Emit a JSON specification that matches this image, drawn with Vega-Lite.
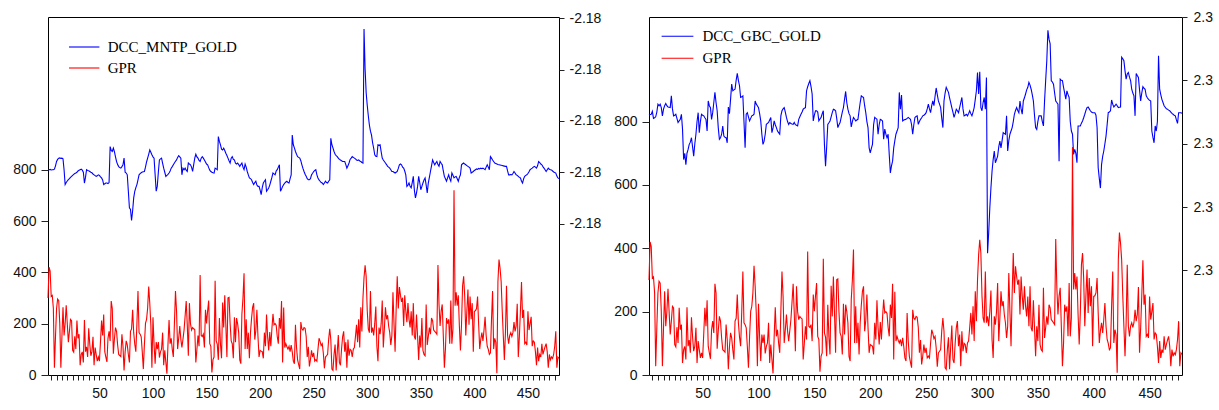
{
"$schema":"https://vega.github.io/schema/vega-lite/v6.json",
"padding":{"left":12,"top":9,"right":0,"bottom":0},
"background":"white",
"config":{"view":{"stroke":"#000","strokeWidth":1},"axis":{"labelFont":"Liberation Sans","labelFontSize":14,"labelColor":"#111","tickColor":"#222","tickWidth":1,"domain":false,"grid":false,"labelFlush":false},"legend":{"labelFont":"Liberation Serif","labelFontSize":15,"labelColor":"#000","padding":0,"rowPadding":0,"symbolStrokeWidth":1.1}},
"datasets":{"d":[
{"t":2,"gpr":300,"mntp":-2.18469,"gbc":2.3069},
{"t":3,"gpr":420,"mntp":-2.18469,"gbc":2.30692},
{"t":4,"gpr":405,"mntp":-2.184689,"gbc":2.30693},
{"t":5,"gpr":306,"mntp":-2.184691,"gbc":2.30702},
{"t":6,"gpr":310,"mntp":-2.18469,"gbc":2.3068},
{"t":7,"gpr":260,"mntp":-2.18469,"gbc":2.30682},
{"t":8,"gpr":28,"mntp":-2.184688,"gbc":2.30685},
{"t":9,"gpr":150,"mntp":-2.184675,"gbc":2.307},
{"t":10,"gpr":259,"mntp":-2.184658,"gbc":2.30725},
{"t":11,"gpr":296,"mntp":-2.18465,"gbc":2.3072},
{"t":12,"gpr":290,"mntp":-2.184645,"gbc":2.30725},
{"t":13,"gpr":200,"mntp":-2.184644,"gbc":2.30714},
{"t":14,"gpr":28,"mntp":-2.184646,"gbc":2.30688},
{"t":15,"gpr":150,"mntp":-2.184645,"gbc":2.30709},
{"t":16,"gpr":264,"mntp":-2.184648,"gbc":2.3072},
{"t":17,"gpr":154,"mntp":-2.18469,"gbc":2.30727},
{"t":18,"gpr":200,"mntp":-2.184748,"gbc":2.3072},
{"t":19,"gpr":272,"mntp":-2.18474,"gbc":2.30716},
{"t":20,"gpr":200,"mntp":-2.184734,"gbc":2.30715},
{"t":21,"gpr":128,"mntp":-2.184729,"gbc":2.30714},
{"t":22,"gpr":170,"mntp":-2.184725,"gbc":2.30751},
{"t":23,"gpr":217,"mntp":-2.18472,"gbc":2.3071},
{"t":24,"gpr":212,"mntp":-2.184716,"gbc":2.30688},
{"t":25,"gpr":96,"mntp":-2.184712,"gbc":2.3069},
{"t":26,"gpr":89,"mntp":-2.184708,"gbc":2.30693},
{"t":27,"gpr":151,"mntp":-2.184705,"gbc":2.3068},
{"t":28,"gpr":101,"mntp":-2.184703,"gbc":2.30667},
{"t":29,"gpr":212,"mntp":-2.1847,"gbc":2.30672},
{"t":30,"gpr":143,"mntp":-2.184695,"gbc":2.30677},
{"t":31,"gpr":159,"mntp":-2.184692,"gbc":2.30693},
{"t":32,"gpr":38,"mntp":-2.18469,"gbc":2.30646},
{"t":33,"gpr":80,"mntp":-2.184688,"gbc":2.3055},
{"t":34,"gpr":90,"mntp":-2.184692,"gbc":2.3057},
{"t":35,"gpr":49,"mntp":-2.1847,"gbc":2.30534},
{"t":36,"gpr":214,"mntp":-2.184742,"gbc":2.3057},
{"t":37,"gpr":91,"mntp":-2.18472,"gbc":2.30582},
{"t":38,"gpr":110,"mntp":-2.18469,"gbc":2.30598},
{"t":39,"gpr":70,"mntp":-2.184693,"gbc":2.30605},
{"t":40,"gpr":182,"mntp":-2.184694,"gbc":2.30619},
{"t":41,"gpr":120,"mntp":-2.184697,"gbc":2.3059},
{"t":42,"gpr":75,"mntp":-2.1847,"gbc":2.30561},
{"t":43,"gpr":91,"mntp":-2.184702,"gbc":2.306},
{"t":44,"gpr":149,"mntp":-2.184707,"gbc":2.3063},
{"t":45,"gpr":38,"mntp":-2.18471,"gbc":2.3067},
{"t":46,"gpr":107,"mntp":-2.184713,"gbc":2.30698},
{"t":47,"gpr":80,"mntp":-2.184716,"gbc":2.30635},
{"t":48,"gpr":54,"mntp":-2.184714,"gbc":2.3067},
{"t":49,"gpr":70,"mntp":-2.18471,"gbc":2.30693},
{"t":50,"gpr":54,"mntp":-2.184712,"gbc":2.3069},
{"t":51,"gpr":130,"mntp":-2.184718,"gbc":2.30688},
{"t":52,"gpr":212,"mntp":-2.184722,"gbc":2.30682},
{"t":53,"gpr":154,"mntp":-2.18473,"gbc":2.30677},
{"t":54,"gpr":236,"mntp":-2.184748,"gbc":2.3064},
{"t":55,"gpr":91,"mntp":-2.184745,"gbc":2.30735},
{"t":56,"gpr":70,"mntp":-2.184742,"gbc":2.3072},
{"t":57,"gpr":51,"mntp":-2.184742,"gbc":2.30714},
{"t":58,"gpr":143,"mntp":-2.184744,"gbc":2.30677},
{"t":59,"gpr":170,"mntp":-2.18474,"gbc":2.30698},
{"t":60,"gpr":133,"mntp":-2.1846,"gbc":2.3073},
{"t":61,"gpr":288,"mntp":-2.184615,"gbc":2.30762},
{"t":62,"gpr":259,"mntp":-2.184619,"gbc":2.3073},
{"t":63,"gpr":83,"mntp":-2.184606,"gbc":2.30704},
{"t":64,"gpr":140,"mntp":-2.18462,"gbc":2.3065},
{"t":65,"gpr":185,"mntp":-2.18464,"gbc":2.30614},
{"t":66,"gpr":170,"mntp":-2.184658,"gbc":2.30619},
{"t":67,"gpr":117,"mntp":-2.18467,"gbc":2.3063},
{"t":68,"gpr":80,"mntp":-2.184678,"gbc":2.30656},
{"t":69,"gpr":76,"mntp":-2.184682,"gbc":2.30624},
{"t":70,"gpr":72,"mntp":-2.184684,"gbc":2.3062},
{"t":71,"gpr":159,"mntp":-2.184678,"gbc":2.30619},
{"t":72,"gpr":112,"mntp":-2.184671,"gbc":2.30603},
{"t":73,"gpr":18,"mntp":-2.184645,"gbc":2.30716},
{"t":74,"gpr":90,"mntp":-2.1847,"gbc":2.30695},
{"t":75,"gpr":133,"mntp":-2.184703,"gbc":2.3074},
{"t":76,"gpr":117,"mntp":-2.18471,"gbc":2.30788},
{"t":77,"gpr":80,"mntp":-2.184774,"gbc":2.30767},
{"t":78,"gpr":49,"mntp":-2.184839,"gbc":2.3077},
{"t":79,"gpr":170,"mntp":-2.184845,"gbc":2.30772},
{"t":80,"gpr":179,"mntp":-2.184888,"gbc":2.308},
{"t":81,"gpr":254,"mntp":-2.18485,"gbc":2.30822},
{"t":82,"gpr":165,"mntp":-2.1848,"gbc":2.308},
{"t":83,"gpr":120,"mntp":-2.184774,"gbc":2.30783},
{"t":84,"gpr":91,"mntp":-2.18476,"gbc":2.30746},
{"t":85,"gpr":200,"mntp":-2.184748,"gbc":2.30748},
{"t":86,"gpr":327,"mntp":-2.18473,"gbc":2.30751},
{"t":87,"gpr":165,"mntp":-2.18471,"gbc":2.3067},
{"t":88,"gpr":159,"mntp":-2.184705,"gbc":2.30587},
{"t":89,"gpr":149,"mntp":-2.184702,"gbc":2.30693},
{"t":90,"gpr":90,"mntp":-2.184699,"gbc":2.30698},
{"t":91,"gpr":23,"mntp":-2.184698,"gbc":2.30685},
{"t":92,"gpr":120,"mntp":-2.184697,"gbc":2.30672},
{"t":93,"gpr":201,"mntp":-2.18468,"gbc":2.3068},
{"t":94,"gpr":217,"mntp":-2.18466,"gbc":2.30688},
{"t":95,"gpr":260,"mntp":-2.184645,"gbc":2.3069},
{"t":96,"gpr":345,"mntp":-2.18463,"gbc":2.30693},
{"t":97,"gpr":280,"mntp":-2.184613,"gbc":2.30735},
{"t":98,"gpr":196,"mntp":-2.184622,"gbc":2.30725},
{"t":99,"gpr":28,"mntp":-2.184632,"gbc":2.3072},
{"t":100,"gpr":225,"mntp":-2.18464,"gbc":2.30714},
{"t":101,"gpr":120,"mntp":-2.184645,"gbc":2.30695},
{"t":102,"gpr":44,"mntp":-2.18471,"gbc":2.30672},
{"t":103,"gpr":128,"mntp":-2.184774,"gbc":2.3063},
{"t":104,"gpr":101,"mntp":-2.184755,"gbc":2.30598},
{"t":105,"gpr":128,"mntp":-2.1847,"gbc":2.30608},
{"t":106,"gpr":68,"mntp":-2.184652,"gbc":2.3063},
{"t":107,"gpr":90,"mntp":-2.184648,"gbc":2.30661},
{"t":108,"gpr":101,"mntp":-2.184645,"gbc":2.30664},
{"t":109,"gpr":165,"mntp":-2.184665,"gbc":2.30667},
{"t":110,"gpr":38,"mntp":-2.184684,"gbc":2.30675},
{"t":111,"gpr":96,"mntp":-2.1847,"gbc":2.30683},
{"t":112,"gpr":50,"mntp":-2.184716,"gbc":2.30635},
{"t":113,"gpr":5,"mntp":-2.184712,"gbc":2.3065},
{"t":114,"gpr":120,"mntp":-2.184708,"gbc":2.30672},
{"t":115,"gpr":214,"mntp":-2.184703,"gbc":2.3066},
{"t":116,"gpr":122,"mntp":-2.184695,"gbc":2.30651},
{"t":117,"gpr":143,"mntp":-2.184684,"gbc":2.3064},
{"t":118,"gpr":100,"mntp":-2.184678,"gbc":2.30635},
{"t":119,"gpr":70,"mntp":-2.184671,"gbc":2.3063},
{"t":120,"gpr":200,"mntp":-2.184664,"gbc":2.30688},
{"t":121,"gpr":327,"mntp":-2.184657,"gbc":2.30704},
{"t":122,"gpr":248,"mntp":-2.184652,"gbc":2.3071},
{"t":123,"gpr":101,"mntp":-2.184642,"gbc":2.30714},
{"t":124,"gpr":143,"mntp":-2.184635,"gbc":2.307},
{"t":125,"gpr":191,"mntp":-2.18464,"gbc":2.30683},
{"t":126,"gpr":140,"mntp":-2.184645,"gbc":2.3067},
{"t":127,"gpr":107,"mntp":-2.18471,"gbc":2.30661},
{"t":128,"gpr":140,"mntp":-2.184684,"gbc":2.30667},
{"t":129,"gpr":175,"mntp":-2.18469,"gbc":2.30664},
{"t":130,"gpr":230,"mntp":-2.184684,"gbc":2.30662},
{"t":131,"gpr":288,"mntp":-2.184692,"gbc":2.30661},
{"t":132,"gpr":196,"mntp":-2.184697,"gbc":2.30667},
{"t":133,"gpr":75,"mntp":-2.184664,"gbc":2.3066},
{"t":134,"gpr":280,"mntp":-2.184668,"gbc":2.30658},
{"t":135,"gpr":200,"mntp":-2.184671,"gbc":2.30656},
{"t":136,"gpr":175,"mntp":-2.18468,"gbc":2.30677},
{"t":137,"gpr":185,"mntp":-2.184697,"gbc":2.30685},
{"t":138,"gpr":180,"mntp":-2.18467,"gbc":2.30693},
{"t":139,"gpr":177,"mntp":-2.184645,"gbc":2.307},
{"t":140,"gpr":49,"mntp":-2.18463,"gbc":2.30709},
{"t":141,"gpr":100,"mntp":-2.18464,"gbc":2.30712},
{"t":142,"gpr":154,"mntp":-2.184645,"gbc":2.30714},
{"t":143,"gpr":112,"mntp":-2.184654,"gbc":2.30767},
{"t":144,"gpr":390,"mntp":-2.184658,"gbc":2.3078},
{"t":145,"gpr":154,"mntp":-2.184645,"gbc":2.3079},
{"t":146,"gpr":150,"mntp":-2.184639,"gbc":2.30799},
{"t":147,"gpr":159,"mntp":-2.184645,"gbc":2.3078},
{"t":148,"gpr":107,"mntp":-2.184652,"gbc":2.30757},
{"t":149,"gpr":254,"mntp":-2.18466,"gbc":2.30672},
{"t":150,"gpr":201,"mntp":-2.184668,"gbc":2.3069},
{"t":151,"gpr":250,"mntp":-2.184671,"gbc":2.30704},
{"t":152,"gpr":290,"mntp":-2.184682,"gbc":2.30704},
{"t":153,"gpr":122,"mntp":-2.184692,"gbc":2.307},
{"t":154,"gpr":112,"mntp":-2.184697,"gbc":2.30672},
{"t":155,"gpr":10,"mntp":-2.1847,"gbc":2.30678},
{"t":156,"gpr":60,"mntp":-2.184702,"gbc":2.30683},
{"t":157,"gpr":70,"mntp":-2.184703,"gbc":2.30695},
{"t":158,"gpr":367,"mntp":-2.184684,"gbc":2.30704},
{"t":159,"gpr":133,"mntp":-2.184687,"gbc":2.30598},
{"t":160,"gpr":120,"mntp":-2.18469,"gbc":2.30529},
{"t":161,"gpr":59,"mntp":-2.184561,"gbc":2.3059},
{"t":162,"gpr":222,"mntp":-2.18458,"gbc":2.30661},
{"t":163,"gpr":120,"mntp":-2.184593,"gbc":2.30666},
{"t":164,"gpr":65,"mntp":-2.18461,"gbc":2.30672},
{"t":165,"gpr":282,"mntp":-2.184613,"gbc":2.30685},
{"t":166,"gpr":185,"mntp":-2.184606,"gbc":2.30698},
{"t":167,"gpr":311,"mntp":-2.184615,"gbc":2.30709},
{"t":168,"gpr":196,"mntp":-2.184626,"gbc":2.30707},
{"t":169,"gpr":70,"mntp":-2.184635,"gbc":2.30704},
{"t":170,"gpr":301,"mntp":-2.184645,"gbc":2.3068},
{"t":171,"gpr":303,"mntp":-2.184655,"gbc":2.30651},
{"t":172,"gpr":200,"mntp":-2.184664,"gbc":2.3066},
{"t":173,"gpr":133,"mntp":-2.184645,"gbc":2.30667},
{"t":174,"gpr":122,"mntp":-2.184639,"gbc":2.30683},
{"t":175,"gpr":65,"mntp":-2.18465,"gbc":2.307},
{"t":176,"gpr":225,"mntp":-2.184652,"gbc":2.30714},
{"t":177,"gpr":128,"mntp":-2.184665,"gbc":2.3074},
{"t":178,"gpr":222,"mntp":-2.184668,"gbc":2.30765},
{"t":179,"gpr":200,"mntp":-2.184664,"gbc":2.3073},
{"t":180,"gpr":165,"mntp":-2.18467,"gbc":2.30709},
{"t":181,"gpr":59,"mntp":-2.184677,"gbc":2.30695},
{"t":182,"gpr":44,"mntp":-2.18467,"gbc":2.30688},
{"t":183,"gpr":238,"mntp":-2.184664,"gbc":2.30653},
{"t":184,"gpr":300,"mntp":-2.18468,"gbc":2.3067},
{"t":185,"gpr":396,"mntp":-2.18469,"gbc":2.30683},
{"t":186,"gpr":101,"mntp":-2.184668,"gbc":2.30678},
{"t":187,"gpr":217,"mntp":-2.18468,"gbc":2.30672},
{"t":188,"gpr":101,"mntp":-2.184697,"gbc":2.30675},
{"t":189,"gpr":165,"mntp":-2.18471,"gbc":2.30677},
{"t":190,"gpr":65,"mntp":-2.184722,"gbc":2.30704},
{"t":191,"gpr":165,"mntp":-2.184725,"gbc":2.3073},
{"t":192,"gpr":220,"mntp":-2.184729,"gbc":2.30751},
{"t":193,"gpr":264,"mntp":-2.18474,"gbc":2.30748},
{"t":194,"gpr":280,"mntp":-2.184748,"gbc":2.30746},
{"t":195,"gpr":138,"mntp":-2.18474,"gbc":2.3072},
{"t":196,"gpr":173,"mntp":-2.184735,"gbc":2.30698},
{"t":197,"gpr":254,"mntp":-2.18475,"gbc":2.3067},
{"t":198,"gpr":150,"mntp":-2.184755,"gbc":2.30651},
{"t":199,"gpr":70,"mntp":-2.184755,"gbc":2.30587},
{"t":200,"gpr":96,"mntp":-2.18477,"gbc":2.30571},
{"t":201,"gpr":93,"mntp":-2.184787,"gbc":2.30585},
{"t":202,"gpr":91,"mntp":-2.18476,"gbc":2.30598},
{"t":203,"gpr":65,"mntp":-2.184742,"gbc":2.3066},
{"t":204,"gpr":165,"mntp":-2.184735,"gbc":2.30683},
{"t":205,"gpr":112,"mntp":-2.184729,"gbc":2.3068},
{"t":206,"gpr":236,"mntp":-2.184774,"gbc":2.30677},
{"t":207,"gpr":150,"mntp":-2.184768,"gbc":2.3063},
{"t":208,"gpr":96,"mntp":-2.184761,"gbc":2.3066},
{"t":209,"gpr":167,"mntp":-2.18475,"gbc":2.30677},
{"t":210,"gpr":112,"mntp":-2.184735,"gbc":2.30675},
{"t":211,"gpr":180,"mntp":-2.18472,"gbc":2.30672},
{"t":212,"gpr":238,"mntp":-2.184703,"gbc":2.30614},
{"t":213,"gpr":196,"mntp":-2.184706,"gbc":2.30646},
{"t":214,"gpr":200,"mntp":-2.18471,"gbc":2.3063},
{"t":215,"gpr":194,"mntp":-2.184695,"gbc":2.30619},
{"t":216,"gpr":150,"mntp":-2.18469,"gbc":2.3063},
{"t":217,"gpr":122,"mntp":-2.18468,"gbc":2.30566},
{"t":218,"gpr":222,"mntp":-2.184671,"gbc":2.30508},
{"t":219,"gpr":180,"mntp":-2.184774,"gbc":2.3053},
{"t":220,"gpr":288,"mntp":-2.184765,"gbc":2.30545},
{"t":221,"gpr":49,"mntp":-2.184755,"gbc":2.30587},
{"t":222,"gpr":263,"mntp":-2.184748,"gbc":2.3061},
{"t":223,"gpr":107,"mntp":-2.184742,"gbc":2.3063},
{"t":224,"gpr":122,"mntp":-2.184738,"gbc":2.3064},
{"t":225,"gpr":110,"mntp":-2.184735,"gbc":2.30651},
{"t":226,"gpr":101,"mntp":-2.18474,"gbc":2.30762},
{"t":227,"gpr":112,"mntp":-2.184742,"gbc":2.30709},
{"t":228,"gpr":91,"mntp":-2.184725,"gbc":2.30754},
{"t":229,"gpr":117,"mntp":-2.18471,"gbc":2.30672},
{"t":230,"gpr":90,"mntp":-2.184555,"gbc":2.30675},
{"t":231,"gpr":54,"mntp":-2.184593,"gbc":2.30676},
{"t":232,"gpr":44,"mntp":-2.184605,"gbc":2.30677},
{"t":233,"gpr":196,"mntp":-2.184619,"gbc":2.3068},
{"t":234,"gpr":107,"mntp":-2.18463,"gbc":2.30683},
{"t":235,"gpr":59,"mntp":-2.184639,"gbc":2.3068},
{"t":236,"gpr":40,"mntp":-2.184642,"gbc":2.30677},
{"t":237,"gpr":23,"mntp":-2.184645,"gbc":2.3066},
{"t":238,"gpr":206,"mntp":-2.184655,"gbc":2.3063},
{"t":239,"gpr":180,"mntp":-2.184671,"gbc":2.3066},
{"t":240,"gpr":175,"mntp":-2.184685,"gbc":2.30683},
{"t":241,"gpr":185,"mntp":-2.184697,"gbc":2.30686},
{"t":242,"gpr":182,"mntp":-2.184708,"gbc":2.30688},
{"t":243,"gpr":150,"mntp":-2.184716,"gbc":2.30661},
{"t":244,"gpr":70,"mntp":-2.184725,"gbc":2.3067},
{"t":245,"gpr":110,"mntp":-2.184729,"gbc":2.30677},
{"t":246,"gpr":33,"mntp":-2.184729,"gbc":2.30682},
{"t":247,"gpr":60,"mntp":-2.184725,"gbc":2.30688},
{"t":248,"gpr":96,"mntp":-2.18471,"gbc":2.3069},
{"t":249,"gpr":70,"mntp":-2.184704,"gbc":2.30693},
{"t":250,"gpr":86,"mntp":-2.184697,"gbc":2.30698},
{"t":251,"gpr":54,"mntp":-2.184693,"gbc":2.3071},
{"t":252,"gpr":60,"mntp":-2.18469,"gbc":2.30725},
{"t":253,"gpr":54,"mntp":-2.18471,"gbc":2.3071},
{"t":254,"gpr":100,"mntp":-2.184722,"gbc":2.30698},
{"t":255,"gpr":143,"mntp":-2.18473,"gbc":2.3072},
{"t":256,"gpr":131,"mntp":-2.184735,"gbc":2.30735},
{"t":257,"gpr":115,"mntp":-2.18474,"gbc":2.3072},
{"t":258,"gpr":122,"mntp":-2.184742,"gbc":2.3075},
{"t":259,"gpr":86,"mntp":-2.184748,"gbc":2.30776},
{"t":260,"gpr":26,"mntp":-2.184742,"gbc":2.30755},
{"t":261,"gpr":70,"mntp":-2.184735,"gbc":2.30735},
{"t":262,"gpr":75,"mntp":-2.18474,"gbc":2.30725},
{"t":263,"gpr":80,"mntp":-2.184742,"gbc":2.30714},
{"t":264,"gpr":140,"mntp":-2.184735,"gbc":2.3068},
{"t":265,"gpr":180,"mntp":-2.184729,"gbc":2.30651},
{"t":266,"gpr":138,"mntp":-2.184568,"gbc":2.30735},
{"t":267,"gpr":23,"mntp":-2.184593,"gbc":2.3076},
{"t":268,"gpr":18,"mntp":-2.184605,"gbc":2.30778},
{"t":269,"gpr":80,"mntp":-2.184619,"gbc":2.3077},
{"t":270,"gpr":119,"mntp":-2.18463,"gbc":2.30762},
{"t":271,"gpr":18,"mntp":-2.184635,"gbc":2.30745},
{"t":272,"gpr":90,"mntp":-2.184639,"gbc":2.3073},
{"t":273,"gpr":156,"mntp":-2.184645,"gbc":2.30714},
{"t":274,"gpr":49,"mntp":-2.18465,"gbc":2.307},
{"t":275,"gpr":38,"mntp":-2.184652,"gbc":2.30683},
{"t":276,"gpr":100,"mntp":-2.184655,"gbc":2.30695},
{"t":277,"gpr":149,"mntp":-2.184658,"gbc":2.30709},
{"t":278,"gpr":170,"mntp":-2.184658,"gbc":2.30704},
{"t":279,"gpr":91,"mntp":-2.184658,"gbc":2.30698},
{"t":280,"gpr":128,"mntp":-2.18467,"gbc":2.30714},
{"t":281,"gpr":28,"mntp":-2.184684,"gbc":2.3073},
{"t":282,"gpr":138,"mntp":-2.184675,"gbc":2.30746},
{"t":283,"gpr":75,"mntp":-2.184664,"gbc":2.3071},
{"t":284,"gpr":100,"mntp":-2.18465,"gbc":2.30688},
{"t":285,"gpr":96,"mntp":-2.184645,"gbc":2.3069},
{"t":286,"gpr":70,"mntp":-2.184639,"gbc":2.30693},
{"t":287,"gpr":101,"mntp":-2.184642,"gbc":2.30688},
{"t":288,"gpr":107,"mntp":-2.184645,"gbc":2.30695},
{"t":289,"gpr":150,"mntp":-2.184648,"gbc":2.30704},
{"t":290,"gpr":196,"mntp":-2.184652,"gbc":2.30695},
{"t":291,"gpr":128,"mntp":-2.184654,"gbc":2.30688},
{"t":292,"gpr":217,"mntp":-2.184652,"gbc":2.307},
{"t":293,"gpr":107,"mntp":-2.184656,"gbc":2.30714},
{"t":294,"gpr":264,"mntp":-2.184658,"gbc":2.3074},
{"t":295,"gpr":170,"mntp":-2.184662,"gbc":2.30767},
{"t":296,"gpr":300,"mntp":-2.184664,"gbc":2.30825},
{"t":297,"gpr":380,"mntp":-2.184142,"gbc":2.30757},
{"t":298,"gpr":427,"mntp":-2.184297,"gbc":2.30827},
{"t":299,"gpr":385,"mntp":-2.18439,"gbc":2.30714},
{"t":300,"gpr":250,"mntp":-2.184439,"gbc":2.30704},
{"t":301,"gpr":180,"mntp":-2.18448,"gbc":2.3073},
{"t":302,"gpr":165,"mntp":-2.184516,"gbc":2.30746},
{"t":303,"gpr":327,"mntp":-2.18454,"gbc":2.30709},
{"t":304,"gpr":165,"mntp":-2.184555,"gbc":2.30809},
{"t":305,"gpr":185,"mntp":-2.184585,"gbc":2.30254},
{"t":306,"gpr":154,"mntp":-2.184606,"gbc":2.3032},
{"t":307,"gpr":200,"mntp":-2.184632,"gbc":2.30397},
{"t":308,"gpr":267,"mntp":-2.184638,"gbc":2.3046},
{"t":309,"gpr":112,"mntp":-2.184639,"gbc":2.30513},
{"t":310,"gpr":54,"mntp":-2.184593,"gbc":2.3055},
{"t":311,"gpr":185,"mntp":-2.184595,"gbc":2.30577},
{"t":312,"gpr":159,"mntp":-2.184593,"gbc":2.3054},
{"t":313,"gpr":200,"mntp":-2.18462,"gbc":2.3055},
{"t":314,"gpr":290,"mntp":-2.184645,"gbc":2.30561},
{"t":315,"gpr":107,"mntp":-2.184652,"gbc":2.3059},
{"t":316,"gpr":180,"mntp":-2.184658,"gbc":2.30608},
{"t":317,"gpr":264,"mntp":-2.184664,"gbc":2.30587},
{"t":318,"gpr":217,"mntp":-2.18467,"gbc":2.3061},
{"t":319,"gpr":233,"mntp":-2.184677,"gbc":2.30635},
{"t":320,"gpr":190,"mntp":-2.18468,"gbc":2.30632},
{"t":321,"gpr":165,"mntp":-2.184684,"gbc":2.3063},
{"t":322,"gpr":117,"mntp":-2.18469,"gbc":2.30688},
{"t":323,"gpr":154,"mntp":-2.184697,"gbc":2.30577},
{"t":324,"gpr":322,"mntp":-2.184697,"gbc":2.3061},
{"t":325,"gpr":200,"mntp":-2.1847,"gbc":2.3063},
{"t":326,"gpr":91,"mntp":-2.184703,"gbc":2.3064},
{"t":327,"gpr":259,"mntp":-2.1847,"gbc":2.30651},
{"t":328,"gpr":385,"mntp":-2.184697,"gbc":2.3067},
{"t":329,"gpr":259,"mntp":-2.184685,"gbc":2.30693},
{"t":330,"gpr":343,"mntp":-2.184671,"gbc":2.30705},
{"t":331,"gpr":311,"mntp":-2.184668,"gbc":2.30714},
{"t":332,"gpr":285,"mntp":-2.184671,"gbc":2.30705},
{"t":333,"gpr":301,"mntp":-2.18468,"gbc":2.30698},
{"t":334,"gpr":191,"mntp":-2.184684,"gbc":2.30735},
{"t":335,"gpr":311,"mntp":-2.184695,"gbc":2.3071},
{"t":336,"gpr":250,"mntp":-2.18471,"gbc":2.30693},
{"t":337,"gpr":206,"mntp":-2.184755,"gbc":2.30735},
{"t":338,"gpr":280,"mntp":-2.18475,"gbc":2.30745},
{"t":339,"gpr":217,"mntp":-2.184742,"gbc":2.30757},
{"t":340,"gpr":185,"mntp":-2.184755,"gbc":2.3077},
{"t":341,"gpr":248,"mntp":-2.184761,"gbc":2.30778},
{"t":342,"gpr":154,"mntp":-2.18474,"gbc":2.30794},
{"t":343,"gpr":280,"mntp":-2.184716,"gbc":2.30785},
{"t":344,"gpr":149,"mntp":-2.18477,"gbc":2.30772},
{"t":345,"gpr":138,"mntp":-2.1848,"gbc":2.30755},
{"t":346,"gpr":236,"mntp":-2.18478,"gbc":2.30735},
{"t":347,"gpr":150,"mntp":-2.184755,"gbc":2.3069},
{"t":348,"gpr":59,"mntp":-2.184716,"gbc":2.30651},
{"t":349,"gpr":154,"mntp":-2.18474,"gbc":2.30645},
{"t":350,"gpr":107,"mntp":-2.184768,"gbc":2.3067},
{"t":351,"gpr":222,"mntp":-2.184755,"gbc":2.30688},
{"t":352,"gpr":96,"mntp":-2.184742,"gbc":2.30688},
{"t":353,"gpr":80,"mntp":-2.18473,"gbc":2.30688},
{"t":354,"gpr":75,"mntp":-2.184722,"gbc":2.3067},
{"t":355,"gpr":275,"mntp":-2.18475,"gbc":2.30656},
{"t":356,"gpr":117,"mntp":-2.184781,"gbc":2.30735},
{"t":357,"gpr":150,"mntp":-2.184742,"gbc":2.308},
{"t":358,"gpr":185,"mntp":-2.18472,"gbc":2.30862},
{"t":359,"gpr":159,"mntp":-2.184697,"gbc":2.30958},
{"t":360,"gpr":222,"mntp":-2.184675,"gbc":2.3093},
{"t":361,"gpr":212,"mntp":-2.184652,"gbc":2.30915},
{"t":362,"gpr":175,"mntp":-2.184662,"gbc":2.30799},
{"t":363,"gpr":170,"mntp":-2.184671,"gbc":2.30795},
{"t":364,"gpr":165,"mntp":-2.184664,"gbc":2.30788},
{"t":365,"gpr":159,"mntp":-2.184658,"gbc":2.3076},
{"t":366,"gpr":429,"mntp":-2.18467,"gbc":2.30735},
{"t":367,"gpr":275,"mntp":-2.184677,"gbc":2.3073},
{"t":368,"gpr":191,"mntp":-2.184658,"gbc":2.30725},
{"t":369,"gpr":250,"mntp":-2.184665,"gbc":2.30545},
{"t":370,"gpr":275,"mntp":-2.184671,"gbc":2.30804},
{"t":371,"gpr":154,"mntp":-2.184695,"gbc":2.308},
{"t":372,"gpr":28,"mntp":-2.184716,"gbc":2.30799},
{"t":373,"gpr":101,"mntp":-2.184725,"gbc":2.30778},
{"t":374,"gpr":222,"mntp":-2.184735,"gbc":2.3076},
{"t":375,"gpr":200,"mntp":-2.184722,"gbc":2.30741},
{"t":376,"gpr":217,"mntp":-2.18471,"gbc":2.30767},
{"t":377,"gpr":122,"mntp":-2.184725,"gbc":2.30755},
{"t":378,"gpr":290,"mntp":-2.184735,"gbc":2.30746},
{"t":379,"gpr":122,"mntp":-2.184703,"gbc":2.3067},
{"t":380,"gpr":180,"mntp":-2.184712,"gbc":2.3064},
{"t":381,"gpr":720,"mntp":-2.184722,"gbc":2.3063},
{"t":382,"gpr":270,"mntp":-2.184718,"gbc":2.30566},
{"t":383,"gpr":322,"mntp":-2.184716,"gbc":2.30582},
{"t":384,"gpr":270,"mntp":-2.184725,"gbc":2.3057},
{"t":385,"gpr":311,"mntp":-2.184735,"gbc":2.3054},
{"t":386,"gpr":191,"mntp":-2.18472,"gbc":2.30656},
{"t":387,"gpr":96,"mntp":-2.18471,"gbc":2.30656},
{"t":388,"gpr":196,"mntp":-2.184671,"gbc":2.30656},
{"t":389,"gpr":348,"mntp":-2.184667,"gbc":2.30665},
{"t":390,"gpr":385,"mntp":-2.184664,"gbc":2.30672},
{"t":391,"gpr":306,"mntp":-2.184668,"gbc":2.30682},
{"t":392,"gpr":154,"mntp":-2.184671,"gbc":2.30693},
{"t":393,"gpr":250,"mntp":-2.184674,"gbc":2.30705},
{"t":394,"gpr":333,"mntp":-2.184677,"gbc":2.30714},
{"t":395,"gpr":196,"mntp":-2.18468,"gbc":2.30716},
{"t":396,"gpr":306,"mntp":-2.184684,"gbc":2.3071},
{"t":397,"gpr":217,"mntp":-2.184703,"gbc":2.30704},
{"t":398,"gpr":280,"mntp":-2.1847,"gbc":2.307},
{"t":399,"gpr":91,"mntp":-2.184697,"gbc":2.30698},
{"t":400,"gpr":248,"mntp":-2.184693,"gbc":2.30698},
{"t":401,"gpr":250,"mntp":-2.18469,"gbc":2.30698},
{"t":402,"gpr":259,"mntp":-2.184687,"gbc":2.3069},
{"t":403,"gpr":306,"mntp":-2.184689,"gbc":2.30651},
{"t":404,"gpr":196,"mntp":-2.184685,"gbc":2.30524},
{"t":405,"gpr":101,"mntp":-2.184687,"gbc":2.3049},
{"t":406,"gpr":140,"mntp":-2.184684,"gbc":2.3046},
{"t":407,"gpr":165,"mntp":-2.184686,"gbc":2.30534},
{"t":408,"gpr":133,"mntp":-2.184684,"gbc":2.3056},
{"t":409,"gpr":175,"mntp":-2.184687,"gbc":2.30577},
{"t":410,"gpr":227,"mntp":-2.18469,"gbc":2.306},
{"t":411,"gpr":154,"mntp":-2.18468,"gbc":2.30624},
{"t":412,"gpr":112,"mntp":-2.184671,"gbc":2.3066},
{"t":413,"gpr":100,"mntp":-2.18468,"gbc":2.30698},
{"t":414,"gpr":80,"mntp":-2.18469,"gbc":2.307},
{"t":415,"gpr":86,"mntp":-2.184639,"gbc":2.30704},
{"t":416,"gpr":217,"mntp":-2.184645,"gbc":2.30738},
{"t":417,"gpr":327,"mntp":-2.184652,"gbc":2.30725},
{"t":418,"gpr":101,"mntp":-2.184658,"gbc":2.30716},
{"t":419,"gpr":143,"mntp":-2.184664,"gbc":2.3072},
{"t":420,"gpr":128,"mntp":-2.184666,"gbc":2.30725},
{"t":421,"gpr":7,"mntp":-2.184668,"gbc":2.3072},
{"t":422,"gpr":364,"mntp":-2.18467,"gbc":2.30714},
{"t":423,"gpr":450,"mntp":-2.184671,"gbc":2.30715},
{"t":424,"gpr":416,"mntp":-2.184672,"gbc":2.30716},
{"t":425,"gpr":364,"mntp":-2.184673,"gbc":2.30873},
{"t":426,"gpr":250,"mntp":-2.184674,"gbc":2.30868},
{"t":427,"gpr":154,"mntp":-2.184675,"gbc":2.30862},
{"t":428,"gpr":59,"mntp":-2.184676,"gbc":2.3083},
{"t":429,"gpr":165,"mntp":-2.184677,"gbc":2.30804},
{"t":430,"gpr":348,"mntp":-2.184677,"gbc":2.3082},
{"t":431,"gpr":154,"mntp":-2.184695,"gbc":2.30825},
{"t":432,"gpr":122,"mntp":-2.18471,"gbc":2.3081},
{"t":433,"gpr":154,"mntp":-2.18471,"gbc":2.30799},
{"t":434,"gpr":165,"mntp":-2.184709,"gbc":2.30772},
{"t":435,"gpr":150,"mntp":-2.18471,"gbc":2.3076},
{"t":436,"gpr":165,"mntp":-2.184705,"gbc":2.30751},
{"t":437,"gpr":206,"mntp":-2.184697,"gbc":2.30688},
{"t":438,"gpr":170,"mntp":-2.184703,"gbc":2.30822},
{"t":439,"gpr":191,"mntp":-2.18471,"gbc":2.30815},
{"t":440,"gpr":278,"mntp":-2.184712,"gbc":2.30809},
{"t":441,"gpr":70,"mntp":-2.184716,"gbc":2.3077},
{"t":442,"gpr":149,"mntp":-2.18472,"gbc":2.30735},
{"t":443,"gpr":250,"mntp":-2.184722,"gbc":2.3076},
{"t":444,"gpr":362,"mntp":-2.184735,"gbc":2.3078},
{"t":445,"gpr":222,"mntp":-2.184742,"gbc":2.30775},
{"t":446,"gpr":254,"mntp":-2.184725,"gbc":2.30772},
{"t":447,"gpr":122,"mntp":-2.184716,"gbc":2.30751},
{"t":448,"gpr":128,"mntp":-2.184712,"gbc":2.30745},
{"t":449,"gpr":117,"mntp":-2.18471,"gbc":2.3074},
{"t":450,"gpr":248,"mntp":-2.184705,"gbc":2.30737},
{"t":451,"gpr":175,"mntp":-2.184698,"gbc":2.30735},
{"t":452,"gpr":200,"mntp":-2.18469,"gbc":2.3064},
{"t":453,"gpr":227,"mntp":-2.184687,"gbc":2.3062},
{"t":454,"gpr":112,"mntp":-2.184684,"gbc":2.30603},
{"t":455,"gpr":133,"mntp":-2.18468,"gbc":2.30656},
{"t":456,"gpr":128,"mntp":-2.184677,"gbc":2.3064},
{"t":457,"gpr":90,"mntp":-2.18468,"gbc":2.3067},
{"t":458,"gpr":38,"mntp":-2.184684,"gbc":2.30878},
{"t":459,"gpr":107,"mntp":-2.184675,"gbc":2.30772},
{"t":460,"gpr":54,"mntp":-2.184658,"gbc":2.30755},
{"t":461,"gpr":80,"mntp":-2.184662,"gbc":2.3074},
{"t":462,"gpr":70,"mntp":-2.184668,"gbc":2.3073},
{"t":463,"gpr":122,"mntp":-2.184671,"gbc":2.3072},
{"t":464,"gpr":80,"mntp":-2.184678,"gbc":2.30715},
{"t":465,"gpr":96,"mntp":-2.184684,"gbc":2.3071},
{"t":466,"gpr":110,"mntp":-2.18469,"gbc":2.30709},
{"t":467,"gpr":122,"mntp":-2.184697,"gbc":2.30706},
{"t":468,"gpr":91,"mntp":-2.18469,"gbc":2.30704},
{"t":469,"gpr":28,"mntp":-2.184684,"gbc":2.307},
{"t":470,"gpr":80,"mntp":-2.184688,"gbc":2.30696},
{"t":471,"gpr":59,"mntp":-2.18469,"gbc":2.30693},
{"t":472,"gpr":70,"mntp":-2.184691,"gbc":2.3069},
{"t":473,"gpr":64,"mntp":-2.184695,"gbc":2.30688},
{"t":474,"gpr":80,"mntp":-2.184699,"gbc":2.30675},
{"t":475,"gpr":112,"mntp":-2.184701,"gbc":2.30664},
{"t":476,"gpr":170,"mntp":-2.184703,"gbc":2.30698},
{"t":477,"gpr":28,"mntp":-2.184715,"gbc":2.30698},
{"t":478,"gpr":70,"mntp":-2.184722,"gbc":2.30698},
{"t":479,"gpr":65,"mntp":-2.184725,"gbc":2.30696}
]},
"data":{"name":"d"},
"bounds":"flush",
"spacing":90,
"hconcat":[
{"width":511,"height":358,
 "encoding":{"x":{"field":"t","type":"quantitative","scale":{"domain":[2,479],"nice":false,"zero":false},"axis":{"title":null,"values":[5,10,15,20,25,30,35,40,45,50,55,60,65,70,75,80,85,90,95,100,105,110,115,120,125,130,135,140,145,150,155,160,165,170,175,180,185,190,195,200,205,210,215,220,225,230,235,240,245,250,255,260,265,270,275,280,285,290,295,300,305,310,315,320,325,330,335,340,345,350,355,360,365,370,375,380,385,390,395,400,405,410,415,420,425,430,435,440,445,450,455,460,465,470,475],"labelExpr":"datum.value % 50 == 0 ? format(datum.value, 'd') : ''","labelOverlap":false,"tickSize":5,"labelPadding":6}}},
 "layer":[
  {"mark":{"type":"line","strokeWidth":1.1},
   "encoding":{
    "y":{"field":"mntp","type":"quantitative","scale":{"domain":[-2.18549,-2.184095],"nice":false,"zero":false},"axis":{"title":null,"orient":"right","values":[-2.1849,-2.1847,-2.1845,-2.1843,-2.1841],"labelExpr":"'-' + format(abs(datum.value), '.2f')","tickSize":5,"labelPadding":5}},
    "color":{"datum":"DCC_MNTP_GOLD","type":"nominal","scale":{"domain":["DCC_MNTP_GOLD","GPR"],"range":["#0000ff","#ff0000"]},"legend":{"title":null,"orient":"none","legendX":23.7,"legendY":17.5,"symbolType":"M-1.32,0H1.32","symbolSize":529,"labelOffset":11,"rowPadding":0}}}},
  {"mark":{"type":"line","strokeWidth":1.1},
   "encoding":{
    "y":{"field":"gpr","type":"quantitative","scale":{"domain":[0,1395],"nice":false},"axis":{"title":null,"orient":"left","values":[0,200,400,600,800],"tickSize":7,"labelPadding":5}},
    "color":{"datum":"GPR","type":"nominal"}}}
 ],
 "resolve":{"scale":{"y":"independent"}}},
{"width":533,"height":358,
 "encoding":{"x":{"field":"t","type":"quantitative","scale":{"domain":[2,479],"nice":false,"zero":false},"axis":{"title":null,"values":[5,10,15,20,25,30,35,40,45,50,55,60,65,70,75,80,85,90,95,100,105,110,115,120,125,130,135,140,145,150,155,160,165,170,175,180,185,190,195,200,205,210,215,220,225,230,235,240,245,250,255,260,265,270,275,280,285,290,295,300,305,310,315,320,325,330,335,340,345,350,355,360,365,370,375,380,385,390,395,400,405,410,415,420,425,430,435,440,445,450,455,460,465,470,475],"labelExpr":"datum.value % 50 == 0 ? format(datum.value, 'd') : ''","labelOverlap":false,"tickSize":5,"labelPadding":6}}},
 "layer":[
  {"mark":{"type":"line","strokeWidth":1.1},
   "encoding":{
    "y":{"field":"gbc","type":"quantitative","scale":{"domain":[2.2987,2.31],"nice":false,"zero":false},"axis":{"title":null,"orient":"right","values":[2.302,2.304,2.306,2.308,2.31],"format":".1f","tickSize":5,"labelPadding":6}},
    "color":{"datum":"DCC_GBC_GOLD","type":"nominal","scale":{"domain":["DCC_GBC_GOLD","GPR"],"range":["#0000ff","#ff0000"]},"legend":{"title":null,"orient":"none","legendX":15,"legendY":5.8,"symbolType":"M-1.27,0H1.27","symbolSize":625,"labelOffset":11.5,"rowPadding":0}}}},
  {"mark":{"type":"line","strokeWidth":1.1},
   "encoding":{
    "y":{"field":"gpr","type":"quantitative","scale":{"domain":[0,1130],"nice":false},"axis":{"title":null,"orient":"left","values":[0,200,400,600,800],"tickSize":7,"labelPadding":5}},
    "color":{"datum":"GPR","type":"nominal"}}}
 ],
 "resolve":{"scale":{"y":"independent"}}}
],
"resolve":{"scale":{"color":"independent"},"legend":{"color":"independent"}}
}
